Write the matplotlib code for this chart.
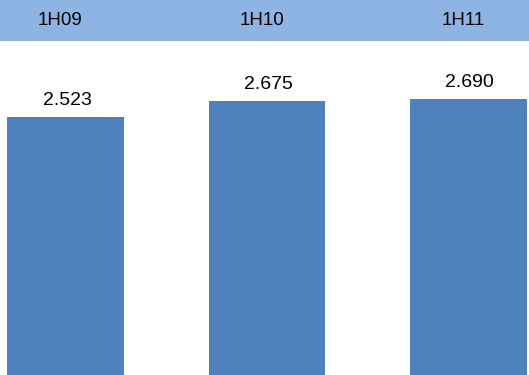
import matplotlib.pyplot as plt
import matplotlib.transforms as mtransforms
from matplotlib.patches import Rectangle

periods = ['1H09', '1H10', '1H11']
values = [2.523, 2.675, 2.690]

bar_color = '#4F81BD'
band_color = '#8EB4E3'

plt.rcParams['font.family'] = ['Liberation Sans', 'DejaVu Sans']

fig = plt.figure(figsize=(5.29, 3.75), dpi=100)
ax = fig.add_axes([0, 0, 1, 1])

x = list(range(len(periods)))
ax.bar(x, values, width=0.58, color=bar_color, zorder=2)

# value labels above each bar
for xi, v in zip(x, values):
    ax.annotate(f'{v:.3f}', (xi, v), xytext=(1, 6), textcoords='offset points',
                ha='center', va='bottom', fontsize=14, color='black')

# header band with period names
ax.add_patch(Rectangle((0, 0.8915), 1, 0.1085, transform=ax.transAxes,
                       facecolor=band_color, edgecolor='none', zorder=3))
trans = mtransforms.blended_transform_factory(ax.transData, ax.transAxes)
for xi, name in zip(x, periods):
    ax.text(xi - 0.027, 0.946, name, transform=trans, ha='center', va='center',
            fontsize=13.5, color='black', zorder=4)

ax.set_xlim(-0.327, 2.302)
ax.set_ylim(0.09, 3.627)
ax.axis('off')

plt.savefig('out.png', dpi=100)
